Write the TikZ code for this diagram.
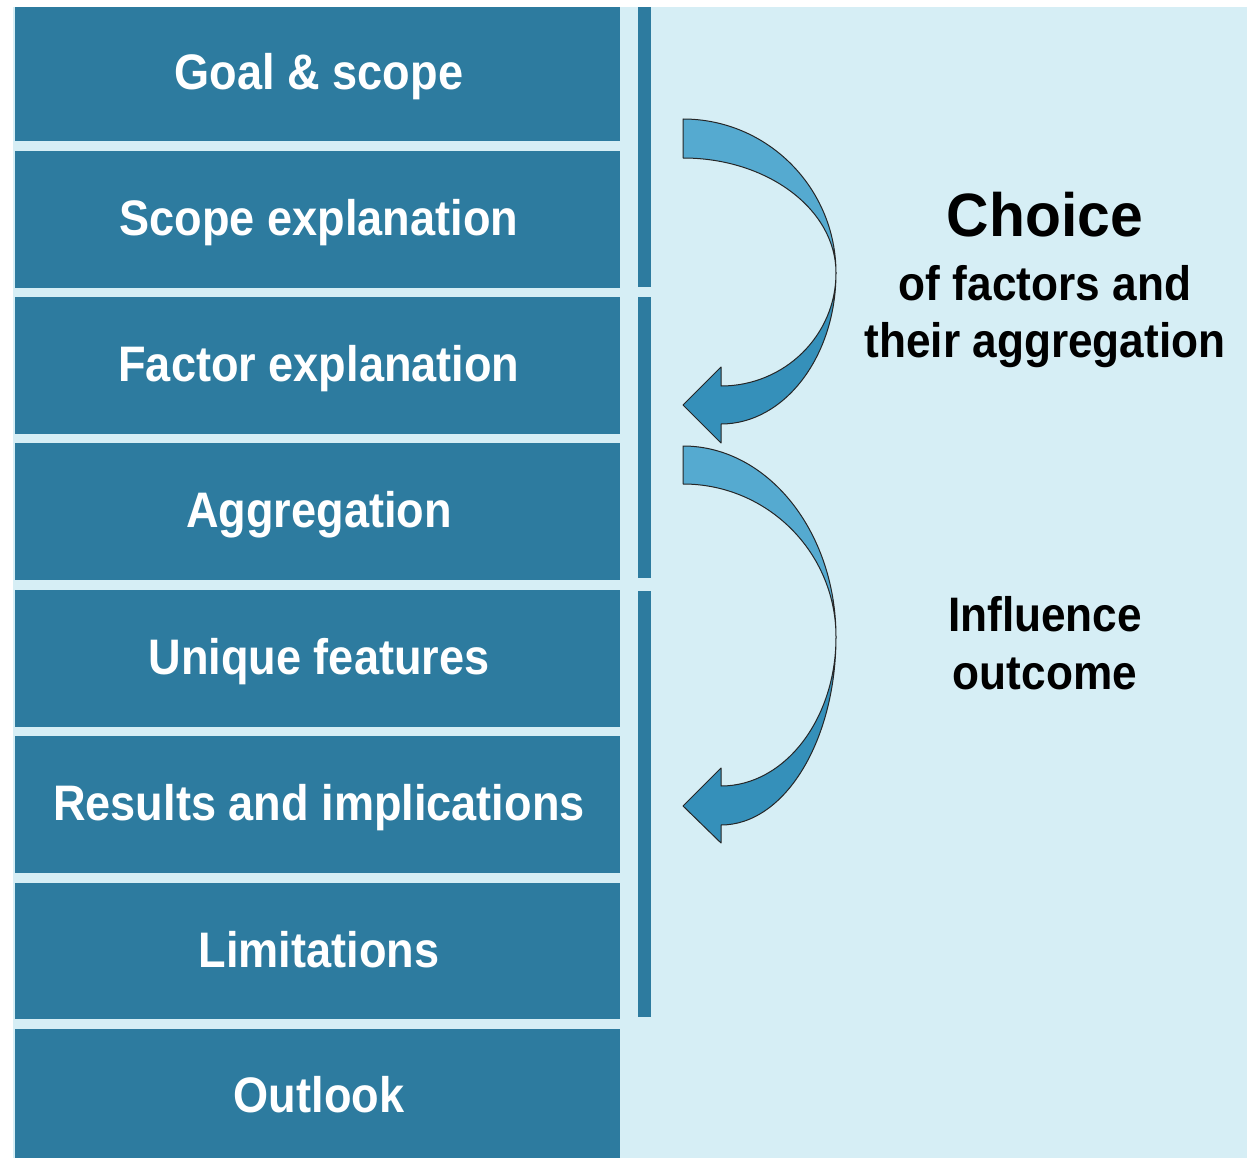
\documentclass[tikz,border=0pt]{standalone}
\usepackage{fontspec}
\setmainfont{Liberation Sans}
\usepackage{graphicx}
\usetikzlibrary{calc}
\definecolor{boxc}{HTML}{2D7B9F}
\definecolor{bgc}{HTML}{D6EEF5}
\definecolor{arlight}{HTML}{55AAD0}
\definecolor{ardark}{HTML}{3590BA}
\tikzset{
  box/.style={fill=boxc, draw=none, minimum width=605pt, inner sep=0pt, outer sep=0pt},
  lbl/.style={anchor=base, text=white, inner sep=0pt, font=\fontsize{48}{58}\selectfont\bfseries},
  rtxt/.style={anchor=base, text=black, inner sep=0pt, font=\fontsize{47}{56}\selectfont\bfseries},
  bigtxt/.style={anchor=base, text=black, inner sep=0pt, font=\fontsize{60}{70}\selectfont\bfseries},
  arl/.style={fill=arlight, draw=black!85, line width=1pt, line join=round},
  ard/.style={fill=ardark, draw=black!85, line width=1pt, line join=round}
}
\newcommand{\bx}[1]{\scalebox{0.94}[1.04]{#1}}
\newcommand{\rx}[1]{\scalebox{0.94}[1.03]{#1}}
\begin{document}
\begin{tikzpicture}[x=1pt, y=-1pt]
\useasboundingbox (0,0) rectangle (1247,1158);
\fill[bgc] (13,7) rectangle (1247,1158);
% boxes
\node[box, minimum height=134pt] (b1) at (317.5,74) {};
\node[box, minimum height=137pt] (b2) at (317.5,219.5) {};
\node[box, minimum height=137pt] (b3) at (317.5,365.5) {};
\node[box, minimum height=137pt] (b4) at (317.5,511.5) {};
\node[box, minimum height=137pt] (b5) at (317.5,658.5) {};
\node[box, minimum height=137pt] (b6) at (317.5,804.5) {};
\node[box, minimum height=136pt] (b7) at (317.5,951) {};
\node[box, minimum height=129pt] (b8) at (317.5,1093.5) {};
\node[lbl] (t1) at ([xshift=1.5pt,yshift=-16pt]b1.center) {\bx{Goal \& scope}};
\node[lbl] (t2) at ([xshift=1.5pt,yshift=-16pt]b2.center) {\bx{Scope explanation}};
\node[lbl] (t3) at ([xshift=1.5pt,yshift=-16pt]b3.center) {\bx{Factor explanation}};
\node[lbl] (t4) at ([xshift=1.5pt,yshift=-16pt]b4.center) {\bx{Aggregation}};
\node[lbl] (t5) at ([xshift=1.5pt,yshift=-16pt]b5.center) {\bx{Unique features}};
\node[lbl] (t6) at ([xshift=1.5pt,yshift=-16pt]b6.center) {\bx{Results and implications}};
\node[lbl] (t7) at ([xshift=1.5pt,yshift=-16pt]b7.center) {\bx{Limitations}};
\node[lbl] (t8) at ([xshift=1.5pt,yshift=-19pt]b8.center) {\bx{Outlook}};
% vertical bars
\fill[boxc] (637.5,7) rectangle (651,287);
\fill[boxc] (637.5,297) rectangle (651,578);
\fill[boxc] (637.5,591) rectangle (651,1017);
% arrow 1
\path[arl] (683,119) -- (683,158) .. controls (767.5,158) and (836,209.5) .. (836,273)
  .. controls (836,188) and (767.5,119) .. (683,119) -- cycle;
\path[ard] (836,273) .. controls (836,356.4) and (784.5,424) .. (721,424)
  -- (721,443) -- (683,405) -- (721,367) -- (721,386)
  .. controls (784.5,386) and (836,335.4) .. (836,273) -- cycle;
% arrow 2
\path[arl] (683,446) -- (683,484) .. controls (767.5,484) and (836,552.5) .. (836,637)
  .. controls (836,531.5) and (767.5,446) .. (683,446) -- cycle;
\path[ard] (836,637) .. controls (836,740.8) and (784.5,825) .. (721,825)
  -- (721,843) -- (683,806) -- (721,768) -- (721,786)
  .. controls (784.5,786) and (836,719.3) .. (836,637) -- cycle;
% right texts
\node[bigtxt] (choice) at (1045,237) {\scalebox{0.98}[1.02]{Choice}};
\node[rtxt] (of) at (1045,300) {\rx{of factors and}};
\node[rtxt] (their) at (1045,357) {\rx{their aggregation}};
\node[rtxt] (infl) at (1045,631) {\rx{Influence}};
\node[rtxt] (outc) at (1045,689) {\rx{outcome}};
\end{tikzpicture}
\end{document}
